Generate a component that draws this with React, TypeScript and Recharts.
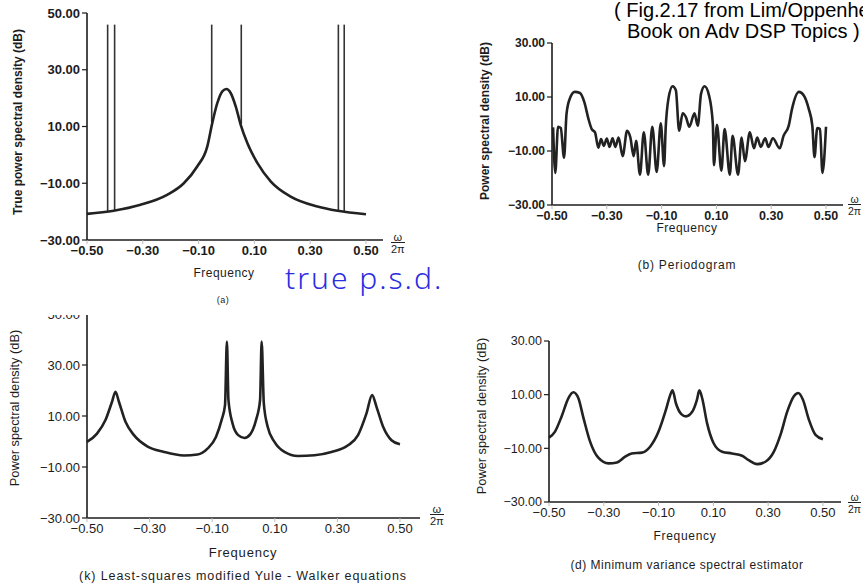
import React from 'react'
import { LineChart, Line, XAxis, YAxis, ReferenceLine } from 'recharts'

// (a) true power spectral density
const freqA = [-0.5, -0.404, -0.308, -0.213, -0.153, -0.105, -0.069, -0.051, -0.033, -0.015, 0.0, 0.015, 0.033, 0.051, 0.075, 0.111, 0.159, 0.23, 0.326, 0.398, 0.5]
const psdA = [-20.8, -19.7, -17.6, -14.1, -10, -4.1, 2.9, 11.2, 18.2, 22.4, 23.2, 21.8, 17.1, 10.6, 4.1, -2.9, -9.4, -14.7, -18.2, -19.7, -20.9]
// sinusoid lines in (a)
const spikeFreqA = [-0.426, -0.401, -0.053, 0.053, 0.401, 0.422]
const spikeBaseA = [-20.0, -19.7, 11.5, 10.9, -19.7, -20.0]
const spikeTopA = [45.9, 45.9, 45.9, 45.9, 45.9, 45.9]

// (b) periodogram
const freqB = [-0.496, -0.488, -0.478, -0.468, -0.456, -0.447, -0.435, -0.417, -0.398, -0.382, -0.367, -0.355, -0.343, -0.331, -0.321, -0.311, -0.3, -0.29, -0.279, -0.269, -0.257, -0.242, -0.226, -0.214, -0.202, -0.193, -0.179, -0.165, -0.149, -0.134, -0.118, -0.103, -0.091, -0.085, -0.075, -0.06, -0.048, -0.036, -0.023, -0.011, 0.001, 0.02, 0.032, 0.044, 0.057, 0.073, 0.087, 0.091, 0.102, 0.118, 0.13, 0.149, 0.159, 0.179, 0.192, 0.204, 0.222, 0.237, 0.249, 0.262, 0.278, 0.29, 0.306, 0.331, 0.345, 0.364, 0.376, 0.401, 0.419, 0.437, 0.45, 0.458, 0.468, 0.478, 0.487, 0.5]
const psdB = [-1.25, -18.1, -1, -1.5, -12.5, 3.75, 9.4, 11.9, 11.5, 8.1, 1.9, -1.9, -3.1, -8.75, -5.6, -8.1, -5.4, -8.5, -5.25, -8.5, -5, -11.9, -2.5, -5, -11.9, -6.25, -18.75, -3.1, -18.75, -1, -17.75, 0.25, -15.6, -1.25, 9.4, 14, 12.5, -2.5, 4, 2.5, -1, 4, -0.6, 11.25, 14, 10.6, 0, -15.25, -0.25, -17.25, -1.9, -18.75, -4.4, -18.75, -5, -13.75, -3.1, -9, -5, -8.5, -5.25, -8.5, -5.25, -9, -4.4, -0.6, 5.6, 11.9, 10.6, 5.6, -0.6, -12.25, -1.5, -1.9, -18.1, -1]

// (k) least-squares modified Yule-Walker
const freqC = [-0.5, -0.468, -0.441, -0.42, -0.409, -0.398, -0.377, -0.35, -0.3075, -0.254, -0.19, -0.147, -0.115, -0.088, -0.07, -0.059, -0.053, -0.048, -0.035, -0.017, 0.003, 0.022, 0.04, 0.053, 0.058, 0.065, 0.0775, 0.099, 0.131, 0.174, 0.227, 0.281, 0.334, 0.366, 0.393, 0.411, 0.425, 0.4465, 0.473, 0.5]
const psdC = [-0.15, 3.1, 8.4, 15.6, 19.5, 15.6, 7.7, 2.5, -1.9, -4.1, -5.5, -5.1, -2.8, 1.8, 8.4, 14.3, 39.2, 16.2, 7.1, 2.5, 1.4, 2.9, 8.4, 16.2, 39.2, 14.9, 5.7, -0.15, -4.1, -5.7, -5.4, -4.1, -1.5, 2.5, 11.0, 18.2, 13.6, 5.7, 0.5, -1.1]

// (d) minimum variance spectral estimator
const freqD = [-0.5, -0.478, -0.454, -0.429, -0.411, -0.393, -0.374, -0.35, -0.32, -0.283, -0.252, -0.222, -0.198, -0.161, -0.131, -0.1, -0.073, -0.057, -0.049, -0.037, -0.017, 0.0, 0.022, 0.04, 0.049, 0.059, 0.077, 0.101, 0.132, 0.168, 0.205, 0.229, 0.26, 0.29, 0.321, 0.345, 0.37, 0.394, 0.41, 0.427, 0.449, 0.473, 0.5]
const psdD = [-6, -3.75, 1.9, 8.75, 10.9, 8.75, 1.25, -7.5, -13.5, -15.6, -15.25, -13.1, -11.9, -11.6, -9.4, -3.75, 4.4, 10, 11.6, 6.9, 2.75, 1.9, 3.5, 8.1, 11.6, 8.75, -0.6, -8.1, -11.25, -11.9, -12.75, -14.4, -15.9, -15, -11.25, -5, 3.75, 9.4, 10.6, 8.1, 0.6, -5, -6.6]

const xTicks = [-0.5, -0.3, -0.1, 0.1, 0.3, 0.5]
const yTicksA = [-30, -10, 10, 30, 50]
const yTicksB = [-30, -10, 10, 30]

const toRows = (f: number[], p: number[]) => f.map((v, i) => ({ f: v, p: p[i] }))
const fmt = (v: number) => (v < 0 ? '\u2212' : '') + Math.abs(v).toFixed(2)

const FONT = '"Liberation Sans", Arial, sans-serif'
const INK = '#1c1c1c'

interface PanelProps {
  left: number
  top: number
  width: number
  height: number
  marginTop: number
  xMax: number
  yDomain: number[]
  yTicks: number[]
  rows: { f: number; p: number }[]
  xFont: number
  yFont: number
  bold: boolean
  children?: React.ReactNode
}

const Panel: React.FC<PanelProps> = ({ left, top, width, height, marginTop, xMax, yDomain, yTicks, rows, xFont, yFont, bold, children }) => (
  <div style={{ position: 'absolute', left, top }}>
    <LineChart width={width} height={height} data={rows} margin={{ top: marginTop, right: 0, bottom: 30, left: 0 }}>
      <XAxis
        type="number"
        dataKey="f"
        domain={[-0.5, xMax]}
        ticks={xTicks}
        tickFormatter={fmt}
        height={30}
        axisLine={{ stroke: INK, strokeWidth: 1.6 }}
        tickLine={{ stroke: '#bbb' }}
        tickSize={4}
        tick={{ fontSize: xFont, fontFamily: FONT, fill: INK, fontWeight: bold ? 700 : 400 }}
      />
      <YAxis
        type="number"
        domain={yDomain}
        ticks={yTicks}
        tickFormatter={fmt}
        width={87}
        axisLine={{ stroke: INK, strokeWidth: 1.6 }}
        tickLine={{ stroke: INK, strokeWidth: 1.2 }}
        tickSize={5}
        tick={{ fontSize: yFont, fontFamily: FONT, fill: INK, fontWeight: bold ? 700 : 400 }}
      />
      {children}
      <Line type="monotone" dataKey="p" stroke="#222" strokeWidth={2.6} dot={false} isAnimationActive={false} />
    </LineChart>
  </div>
)

const Omega: React.FC<{ left: number; top: number; size?: number }> = ({ left, top, size = 11 }) => (
  <div style={{ position: 'absolute', left, top, fontFamily: FONT, fontSize: size, color: INK, textAlign: 'center', lineHeight: '10px' }}>
    <div>ω</div>
    <div style={{ borderTop: '1.2px solid #222', paddingTop: 1 }}>2π</div>
  </div>
)

const VLabel: React.FC<{ x: number; y: number; text: string; size?: number; bold?: boolean }> = ({ x, y, text, size = 11, bold = false }) => (
  <div style={{ position: 'absolute', left: x, top: y, transform: 'translate(-50%, -50%) rotate(-90deg)', whiteSpace: 'nowrap', fontFamily: FONT, fontSize: size, fontWeight: bold ? 700 : 400, color: INK }}>
    {text}
  </div>
)

const HLabel: React.FC<{ x: number; y: number; text: string; size?: number; bold?: boolean; spacing?: number }> = ({ x, y, text, size = 11, bold = false, spacing = 0.5 }) => (
  <div style={{ position: 'absolute', left: x, top: y, transform: 'translate(-50%, -50%)', whiteSpace: 'nowrap', fontFamily: FONT, fontSize: size, fontWeight: bold ? 700 : 400, color: INK, letterSpacing: spacing }}>
    {text}
  </div>
)

export default function App() {
  const rowsA = toRows(freqA, psdA)
  const rowsB = toRows(freqB, psdB)
  const rowsC = toRows(freqC, psdC)
  const rowsD = toRows(freqD, psdD)

  return (
    <div style={{ position: 'absolute', left: 0, top: 0, width: 863, height: 584, overflow: 'hidden', background: '#fff' }}>
      {/* (a) true psd */}
      <Panel left={0} top={0} width={383} height={300} marginTop={13} xMax={0.561} yDomain={[-30, 50]} yTicks={yTicksA} rows={rowsA} xFont={13} yFont={13} bold>
        {spikeFreqA.map((f, i) => (
          <ReferenceLine
            key={i}
            segment={[{ x: f, y: spikeBaseA[i] }, { x: f, y: spikeTopA[i] }]}
            stroke="#333"
            strokeWidth={1.6}
          />
        ))}
      </Panel>
      <VLabel x={18} y={122} text="True power spectral density (dB)" size={12} bold />
      <HLabel x={224} y={273} text="Frequency" size={12} />
      <Omega left={391} top={232} />
      <HLabel x={223} y={300} text="(a)" size={9} />
      <div style={{ position: 'absolute', left: 285, top: 257, fontFamily: '"Noto Sans", sans-serif', fontWeight: 300, fontSize: 30, color: '#2a2de0', letterSpacing: 2 }}>
        true p.s.d.
      </div>

      {/* (b) periodogram */}
      <Panel left={465} top={0} width={378} height={265} marginTop={43} xMax={0.562} yDomain={[-30, 30]} yTicks={yTicksB} rows={rowsB} xFont={12.5} yFont={12} bold />
      <VLabel x={485} y={121} text="Power spectral density (dB)" size={12} bold />
      <HLabel x={687} y={228} text="Frequency" size={12} />
      <HLabel x={687} y={265} text="(b)  Periodogram" size={12} spacing={0.8} />
      <Omega left={848} top={194} size={10.5} />

      {/* (k) modified Yule-Walker */}
      <div style={{ position: 'absolute', left: 0, top: 315, width: 440, height: 269, overflow: 'hidden' }}>
        <Panel left={0} top={-15} width={420} height={278} marginTop={14} xMax={0.564} yDomain={[-30, 50]} yTicks={yTicksA} rows={rowsC} xFont={13} yFont={13} bold={false} />
      </div>
      <VLabel x={14} y={408} text="Power spectral density (dB)" size={12.8} />
      <HLabel x={243} y={552} text="Frequency" size={13} spacing={0.8} />
      <Omega left={430} top={504} />
      <HLabel x={243} y={576} text="(k)  Least-squares modified Yule - Walker equations" size={12.5} spacing={0.9} />

      {/* (d) minimum variance */}
      <Panel left={462} top={300} width={379} height={262} marginTop={41} xMax={0.566} yDomain={[-30, 30]} yTicks={yTicksB} rows={rowsD} xFont={13} yFont={12.5} bold={false} />
      <VLabel x={481} y={416} text="Power spectral density (dB)" size={12.8} />
      <HLabel x={685} y={536} text="Frequency" size={12} spacing={0.7} />
      <HLabel x={687} y={565} text="(d)  Minimum variance spectral estimator" size={12} spacing={0.5} />
      <Omega left={848} top={492} size={10.5} />

      {/* header note */}
      <div style={{ position: 'absolute', left: 614, top: 0, fontFamily: FONT, fontSize: 20, lineHeight: '21px', color: '#000', whiteSpace: 'nowrap' }}>
        <div>( Fig.2.17 from Lim/Oppenheim</div>
        <div style={{ paddingLeft: 13 }}>Book on Adv DSP Topics )</div>
      </div>
    </div>
  )
}
